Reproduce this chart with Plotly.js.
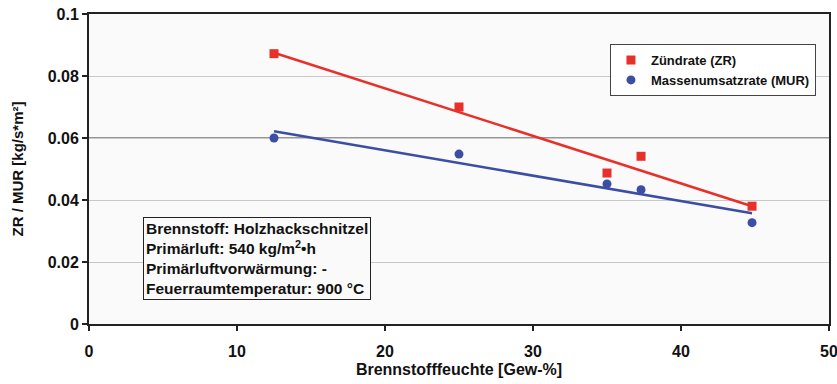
<!DOCTYPE html>
<html><head><meta charset="utf-8">
<script src="https://cdn.plot.ly/plotly-3.0.1.min.js"></script>
<style>html,body{margin:0;padding:0;background:#fff}</style>
</head><body>
<div id="chart" style="width:837px;height:384px"></div>
<script>
const moisture = [12.5, 25, 35, 37.3, 44.8];
const zrValues = [0.0872, 0.0700, 0.0487, 0.0541, 0.0380];
const murValues = [0.0600, 0.0548, 0.0452, 0.0433, 0.0327];
const trendX = [12.5, 44.8];
const zrTrend = [0.0875, 0.0380];
const murTrend = [0.0622, 0.0357];
const xTicks = [0, 10, 20, 30, 40, 50];
const yTicks = [0, 0.02, 0.04, 0.06, 0.08, 0.1];
const yTickText = ['0', '0.02', '0.04', '0.06', '0.08', '0.1'];

const red = '#e8302a', blue = '#3b4ea3';
const fam = 'Arial, Liberation Sans, sans-serif';

const traces = [
  {x: trendX, y: zrTrend, mode: 'lines', line: {color: red, width: 2.5}, showlegend: false, hoverinfo: 'skip'},
  {x: trendX, y: murTrend, mode: 'lines', line: {color: blue, width: 2.5}, showlegend: false, hoverinfo: 'skip'},
  {x: moisture, y: zrValues, mode: 'markers', name: '<b>Zündrate (ZR)</b>', marker: {symbol: 'square', size: 9, color: red}},
  {x: moisture, y: murValues, mode: 'markers', name: '<b>Massenumsatzrate (MUR)</b>', marker: {symbol: 'circle', size: 9, color: blue}}
];

const layout = {
  width: 837, height: 384,
  margin: {l: 89, r: 8, t: 14, b: 60},
  paper_bgcolor: '#ffffff', plot_bgcolor: '#fafafa',
  font: {family: fam, color: '#111'},
  showlegend: true,
  legend: {x: 0.704, y: 0.903, xanchor: 'left', yanchor: 'top', bgcolor: '#ffffff', bordercolor: '#444', borderwidth: 1,
           font: {size: 13, color: '#111', family: fam}, tracegroupgap: 0, itemwidth: 30},
  xaxis: {range: [0, 50], tickvals: xTicks, ticktext: xTicks.map(t => '<b>' + t + '</b>'), showgrid: false, zeroline: false,
          showline: true, linecolor: '#222', linewidth: 2, mirror: true, ticks: 'outside', ticklen: 5, tickwidth: 2, tickcolor: '#222',
          ticklabeloverflow: 'allow', ticklabelstandoff: 7,
          tickfont: {size: 16, family: fam, color: '#111'},
          title: {text: '<b>Brennstofffeuchte [Gew-%]</b>', font: {size: 16, family: fam, color: '#111'}, standoff: 5}},
  yaxis: {range: [0, 0.1], tickvals: yTicks, ticktext: yTickText.map(t => '<b>' + t + '</b>'), showgrid: true, gridcolor: '#c8c8c8', gridwidth: 1, zeroline: false,
          showline: true, linecolor: '#222', linewidth: 2, mirror: true, ticks: 'outside', ticklen: 5, tickwidth: 2, tickcolor: '#222',
          ticklabeloverflow: 'allow',
          tickfont: {size: 16, family: fam, color: '#111'},
          title: {text: '<b>ZR / MUR [kg/s*m²]</b>', font: {size: 15, family: fam, color: '#111'}, standoff: 20}},
  shapes: [
    {type: 'line', xref: 'paper', yref: 'y', x0: 0, x1: 1, y0: yTicks[3], y1: yTicks[3], line: {color: '#333', width: 1}, layer: 'below'}
  ],
  annotations: [
    {xref: 'paper', yref: 'paper', x: 0.073, y: 0.346, xanchor: 'left', yanchor: 'top', align: 'left', showarrow: false,
     text: '<b>Brennstoff: Holzhackschnitzel<br>Primärluft: 540 kg/m<sup>2</sup>•h<br>Primärluftvorwärmung: -<br>Feuerraumtemperatur: 900 °C</b>',
     font: {size: 15.5, family: fam, color: '#111'}, bgcolor: '#fafafa', bordercolor: '#222', borderwidth: 1, borderpad: 2}
  ]
};
Plotly.newPlot('chart', traces, layout, {displayModeBar: false});
</script>
</body></html>
